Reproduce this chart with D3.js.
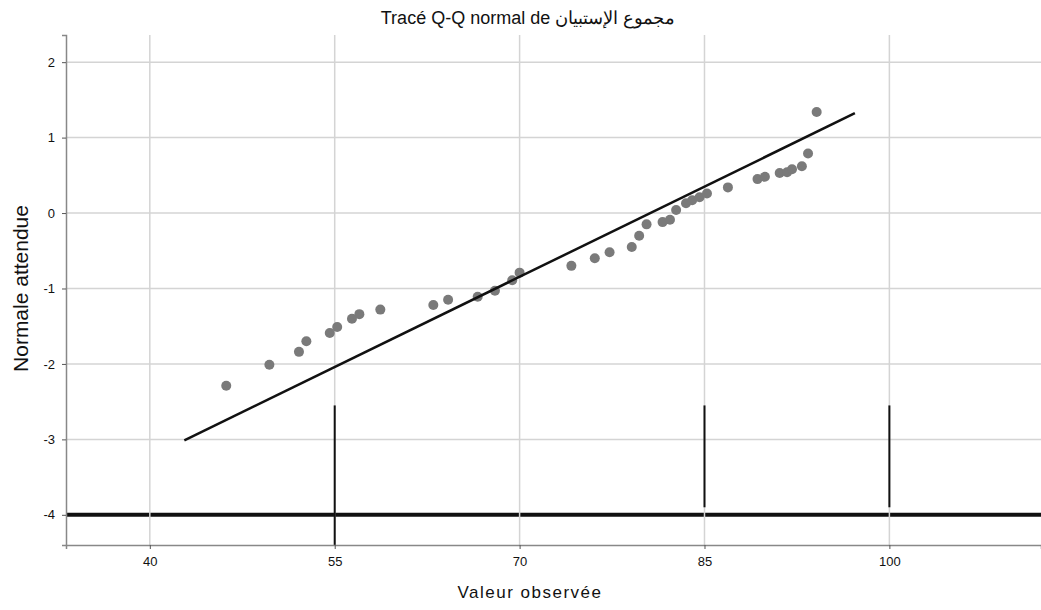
<!DOCTYPE html>
<html>
<head>
<meta charset="utf-8">
<script src="https://cdn.jsdelivr.net/npm/d3@7"></script>
<style>
  body { margin: 0; background: #fff; }
  svg { font-family: "Liberation Sans", Arial, sans-serif; }
</style>
</head>
<body>
<div id="chart"></div>
<script>
let observed = [46.2, 49.7, 52.1, 52.7, 54.6, 55.2, 56.4, 57.0, 58.7, 63.0, 64.2, 66.6, 68.0, 69.4, 70.0,
  74.2, 76.1, 77.3, 79.1, 79.7, 80.3, 81.6, 82.2, 82.7, 83.5, 84.0, 84.6, 85.2, 86.9, 89.3, 89.9,
  91.1, 91.7, 92.1, 92.9, 93.4, 94.1];
let expected = [-2.29, -2.01, -1.84, -1.70, -1.59, -1.51, -1.40, -1.34, -1.28, -1.22, -1.15, -1.11, -1.03, -0.89, -0.79,
  -0.70, -0.60, -0.52, -0.45, -0.30, -0.15, -0.12, -0.09, 0.04, 0.13, 0.17, 0.21, 0.26, 0.34, 0.45, 0.48,
  0.53, 0.54, 0.58, 0.62, 0.79, 1.34];
// reference line
let lineX = [42.8, 97.2];
let lineMean = 80.6, lineSd = 12.54;

let xTicks = [40, 55, 70, 85, 100];
let yTicks = [2, 1, 0, -1, -2, -3, -4];

let width = 1041, height = 610;
let svg = d3.select("#chart").append("svg")
    .attr("width", width)
    .attr("height", height);

let x = d3.scaleLinear().domain([33.2, 112.3]).range([66, 1041]);
let y = d3.scaleLinear().domain([-4.4, 2.36]).range([545, 35]);

// gridlines
svg.append("g").selectAll("line.h")
    .data(yTicks)
    .join("line")
    .attr("x1", x(33.2)).attr("x2", width)
    .attr("y1", d => y(d)).attr("y2", d => y(d))
    .attr("stroke", d => d == -4 ? "#111" : "#d4d4d4")
    .attr("stroke-width", d => d == -4 ? 4 : 1.5);
svg.append("g").selectAll("line.v")
    .data(xTicks)
    .join("line")
    .attr("x1", d => x(d)).attr("x2", d => x(d))
    .attr("y1", y(2.36)).attr("y2", y(-4.4))
    .attr("stroke", "#d4d4d4")
    .attr("stroke-width", 1.5);

// dark segments in the lower part
let darkSeg = [[55, -2.55, -4.4], [85, -2.55, -3.9], [100, -2.55, -3.9]];
svg.append("g").selectAll("line")
    .data(darkSeg)
    .join("line")
    .attr("x1", d => x(d[0])).attr("x2", d => x(d[0]))
    .attr("y1", d => y(d[1])).attr("y2", d => y(d[2]))
    .attr("stroke", "#111")
    .attr("stroke-width", 2);

// axes
let xAxis = svg.append("g")
    .attr("transform", `translate(0,${y(-4.4)})`)
    .call(d3.axisBottom(x).tickValues(xTicks).tickSize(4).tickPadding(8).tickFormat(d => String(d)));
let yAxis = svg.append("g")
    .attr("transform", `translate(${x(33.2)},0)`)
    .call(d3.axisLeft(y).tickValues(yTicks).tickSize(4).tickPadding(7).tickFormat(d => String(d)));
[xAxis, yAxis].forEach(a => {
    a.select(".domain").attr("stroke", "#888").attr("stroke-width", 1.5);
    a.selectAll(".tick line").attr("stroke", "#555");
    a.selectAll("text").attr("font-size", 13).attr("fill", "#111");
});

// points
svg.append("g").selectAll("circle")
    .data(observed)
    .join("circle")
    .attr("cx", d => x(d))
    .attr("cy", (d, i) => y(expected[i]))
    .attr("r", 5)
    .attr("fill", "#7a7a7a");

// normal reference line
svg.append("line")
    .attr("x1", x(lineX[0])).attr("y1", y((lineX[0] - lineMean) / lineSd))
    .attr("x2", x(lineX[1])).attr("y2", y((lineX[1] - lineMean) / lineSd))
    .attr("stroke", "#111")
    .attr("stroke-width", 2.5);

// texts
svg.append("text")
    .attr("x", 528).attr("y", 24)
    .attr("text-anchor", "middle")
    .attr("font-size", 18)
    .attr("fill", "#111")
    .text("Tracé Q-Q normal de مجموع الإستبيان");
svg.append("text")
    .attr("transform", `translate(28,${y(-1)}) rotate(-90)`)
    .attr("text-anchor", "middle")
    .attr("font-size", 21)
    .attr("fill", "#111")
    .text("Normale attendue");
svg.append("text")
    .attr("x", 530).attr("y", 598)
    .attr("text-anchor", "middle")
    .attr("font-size", 17)
    .attr("letter-spacing", 1.5)
    .attr("fill", "#111")
    .text("Valeur observée");
</script>
</body>
</html>
